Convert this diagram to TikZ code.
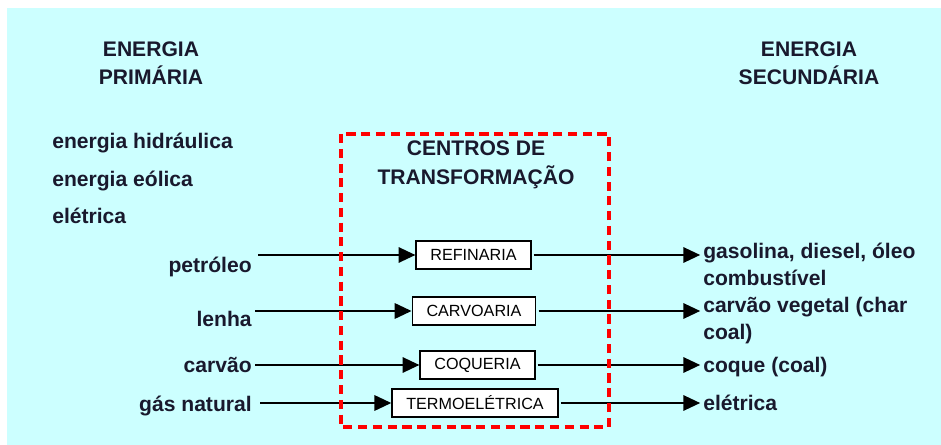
\documentclass[tikz,border=0pt]{standalone}
\usepackage{fontspec}
\setmainfont{Liberation Sans}
\usetikzlibrary{arrows.meta}
\definecolor{fundo}{RGB}{204,255,255}
\definecolor{tinta}{RGB}{25,25,45}
\tikzset{
  rotulo/.style={font=\bfseries\fontsize{15}{20}\selectfont, inner sep=0pt, text=tinta},
  centro/.style={draw, line width=1.3pt, fill=white, font=\fontsize{11.5}{13}\selectfont,
    inner xsep=10pt, inner ysep=0pt, minimum height=0.7cm},
  fluxo/.style={line width=1.3pt, -{Triangle[length=12pt,width=11pt]}},
  tracejado/.style={draw=red, line width=2.6pt, dash pattern=on 6.5pt off 4pt}
}
\begin{document}
\begin{tikzpicture}[x=0.025cm, y=-0.025cm]
    \useasboundingbox (0,0) rectangle (941,445);
    \fill[fundo] (7,8) rectangle (941,445);

    % titulos (base = ultima linha)
    \node[rotulo, align=center, anchor=base] (primaria) at (151,85) {ENERGIA\\PRIMÁRIA};
    \node[rotulo, align=center, anchor=base] (secundaria) at (809,85) {ENERGIA\\SECUNDÁRIA};
    \node[rotulo, align=center, anchor=base, font=\bfseries\fontsize{15}{21}\selectfont]
        (centros) at (476,185) {CENTROS DE\\TRANSFORMAÇÃO};

    % fontes primarias
    \node[rotulo, anchor=base west] (hidraulica) at (52,149) {energia hidráulica};
    \node[rotulo, anchor=base west] (eolica) at (52,187) {energia eólica};
    \node[rotulo, anchor=base west] (eletrica1) at (52,224) {elétrica};
    \node[rotulo, anchor=base east] (petroleo) at (252,273) {petróleo};
    \node[rotulo, anchor=base east] (lenha) at (252,327) {lenha};
    \node[rotulo, anchor=base east] (carvao) at (252,373) {carvão};
    \node[rotulo, anchor=base east] (gas) at (252,411) {gás natural};

    \coordinate (p0) at (258,255);
    \coordinate (l0) at (255,311);
    \coordinate (c0) at (255,365);
    \coordinate (g0) at (260,403);

    % centros de transformacao
    \node[centro] (refinaria) at (473.5,255) {REFINARIA};
    \node[centro] (carvoaria) at (474,311) {CARVOARIA};
    \node[centro] (coqueria) at (477.5,365) {COQUERIA};
    \node[centro] (termo) at (475,403) {TERMOELÉTRICA};

    % energia secundaria
    \node[rotulo, align=left, anchor=base west, font=\bfseries\fontsize{15}{19.5}\selectfont]
        (gasolina) at (703,286) {gasolina, diesel, óleo\\combustível};
    \node[rotulo, align=left, anchor=base west, font=\bfseries\fontsize{15}{19.5}\selectfont]
        (vegetal) at (703,340) {carvão vegetal (char\\coal)};
    \node[rotulo, anchor=base west] (coque) at (703,372) {coque (coal)};
    \node[rotulo, anchor=base west] (eletrica2) at (703,410) {elétrica};

    \draw[fluxo] (p0) -- (refinaria.west);
    \draw[fluxo] (l0) -- (carvoaria.west);
    \draw[fluxo] (c0) -- (coqueria.west);
    \draw[fluxo] (g0) -- (termo.west);

    \draw[fluxo, shorten <=1.5pt, shorten >=2pt] (refinaria.east) -- (refinaria.east -| gasolina.west);
    \draw[fluxo, shorten <=1.5pt, shorten >=2pt] (carvoaria.east) -- (carvoaria.east -| vegetal.west);
    \draw[fluxo, shorten <=1.5pt, shorten >=2pt] (coqueria.east) -- (coqueria.east -| coque.west);
    \draw[fluxo, shorten <=1.5pt, shorten >=2pt] (termo.east) -- (termo.east -| eletrica2.west);

    \draw[tracejado] (341,134) rectangle (609,427);
\end{tikzpicture}
\end{document}
